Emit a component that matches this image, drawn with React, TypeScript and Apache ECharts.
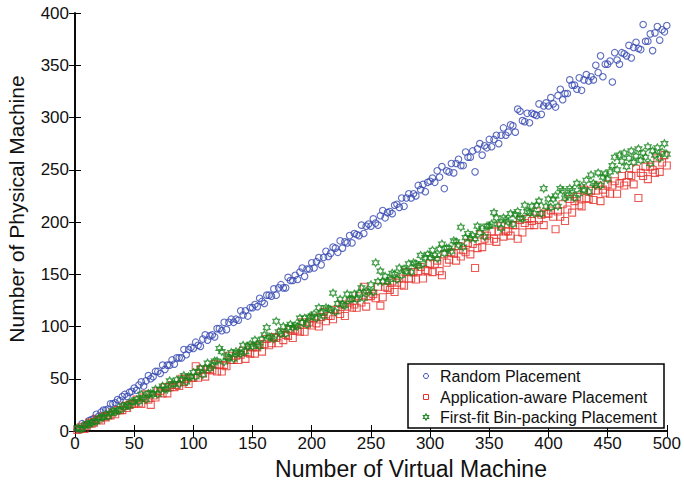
import React, { useEffect, useRef } from "react";
import * as echarts from "echarts";

// Number of virtual machines (x), every 2 VMs
const vmCounts: number[] = Array.from({ length: 250 }, (_, i) => 2 * (i + 1));

const randomPlacement: number[] = [
  2, 2, 7, 6, 6, 10, 11, 12, 16, 14, 18, 20, 20, 21, 26, 26, 27, 30, 29, 33, 35, 33, 37, 38, 41,
  39, 44, 47, 43, 48, 53, 50, 52, 57, 57, 55, 63, 59, 63, 63, 68, 64, 70, 70, 70, 78, 73, 78, 80, 79,
  85, 82, 81, 88, 92, 87, 91, 92, 90, 98, 98, 96, 104, 97, 104, 107, 104, 107, 106, 115, 111, 115, 110, 118, 118,
  121, 119, 127, 124, 122, 130, 130, 129, 136, 130, 137, 140, 137, 137, 147, 144, 144, 149, 145, 152, 156, 148, 155, 155, 161,
  156, 162, 166, 159, 166, 172, 167, 170, 176, 175, 171, 182, 175, 181, 180, 187, 180, 189, 188, 187, 197, 189, 196, 198, 196,
  203, 199, 197, 206, 211, 204, 209, 210, 208, 216, 217, 214, 223, 215, 223, 227, 223, 227, 225, 235, 231, 236, 229, 238, 239,
  242, 238, 249, 243, 253, 232, 249, 248, 256, 247, 256, 260, 254, 254, 267, 262, 262, 268, 248, 270, 275, 264, 273, 271, 279,
  272, 279, 283, 275, 283, 290, 283, 286, 293, 292, 286, 308, 306, 297, 296, 304, 295, 304, 303, 302, 313, 303, 311, 314, 311,
  319, 313, 310, 321, 327, 317, 323, 323, 336, 331, 331, 327, 338, 326, 336, 341, 335, 339, 336, 350, 343, 359, 339, 351, 351,
  354, 334, 362, 355, 351, 362, 361, 359, 369, 357, 367, 372, 366, 365, 389, 373, 373, 380, 364, 381, 387, 374, 384, 382, 388,
];

const applicationAware: number[] = [
  1, 2, 4, 2, 5, 8, 7, 8, 11, 11, 10, 14, 13, 15, 15, 18, 16, 20, 20, 20, 24, 22, 25, 26, 26,
  30, 27, 26, 32, 35, 30, 25, 34, 32, 38, 38, 36, 42, 36, 42, 44, 42, 44, 43, 50, 47, 50, 45, 51, 51,
  62, 51, 59, 55, 52, 59, 59, 58, 64, 57, 63, 57, 63, 62, 72, 68, 68, 72, 68, 73, 77, 69, 75, 74, 80,
  74, 80, 83, 76, 83, 88, 82, 84, 90, 89, 84, 94, 87, 92, 91, 97, 89, 97, 96, 95, 104, 95, 102, 104, 101,
  108, 103, 100, 109, 114, 105, 110, 110, 107, 116, 116, 112, 121, 110, 119, 123, 118, 121, 118, 129, 123, 138, 119, 129, 129,
  131, 127, 138, 120, 128, 138, 137, 135, 143, 133, 142, 146, 140, 139, 152, 146, 146, 152, 145, 153, 157, 146, 154, 153, 160,
  152, 160, 163, 153, 149, 169, 161, 164, 171, 170, 163, 177, 167, 173, 171, 180, 169, 179, 156, 175, 188, 176, 184, 187, 182,
  191, 184, 181, 191, 196, 186, 191, 191, 187, 197, 197, 184, 202, 190, 199, 203, 197, 201, 197, 210, 202, 207, 197, 208, 208,
  211, 205, 193, 210, 205, 217, 201, 212, 222, 209, 220, 224, 216, 215, 231, 223, 222, 230, 221, 230, 235, 220, 231, 228, 236,
  227, 235, 239, 227, 237, 244, 235, 238, 245, 244, 236, 251, 223, 247, 244, 253, 241, 253, 250, 247, 261, 248, 257, 264, 254,
];

const firstFit: number[] = [
  3, 2, 2, 5, 7, 6, 8, 9, 9, 12, 13, 13, 16, 14, 17, 19, 18, 20, 20, 24, 23, 25, 24, 28, 28,
  30, 28, 35, 32, 30, 36, 36, 35, 40, 35, 40, 43, 40, 40, 48, 45, 45, 49, 45, 50, 53, 47, 52, 52, 56,
  52, 57, 60, 54, 60, 65, 60, 62, 67, 67, 79, 76, 66, 71, 70, 75, 69, 76, 75, 74, 82, 76, 81, 83, 81,
  87, 83, 81, 88, 92, 99, 90, 90, 88, 105, 95, 93, 100, 93, 99, 102, 99, 101, 100, 108, 104, 108, 102, 109, 110,
  112, 108, 118, 113, 110, 118, 117, 116, 132, 114, 122, 126, 121, 120, 131, 126, 126, 131, 126, 132, 137, 127, 134, 133, 140,
  133, 161, 143, 153, 143, 148, 143, 145, 151, 150, 145, 156, 149, 155, 153, 160, 152, 161, 160, 158, 168, 160, 166, 169, 166,
  173, 168, 165, 174, 179, 170, 175, 175, 172, 182, 181, 178, 195, 176, 185, 189, 184, 187, 184, 196, 190, 194, 186, 196, 196,
  198, 209, 204, 198, 194, 204, 202, 200, 208, 198, 207, 210, 204, 203, 216, 210, 209, 215, 208, 216, 220, 208, 232, 215, 222,
  214, 222, 225, 215, 232, 230, 223, 225, 232, 230, 223, 237, 227, 234, 231, 240, 229, 245, 237, 235, 247, 235, 243, 246, 241,
  248, 254, 262, 250, 264, 258, 266, 253, 261, 268, 257, 263, 270, 259, 266, 262, 272, 256, 268, 264, 271, 261, 267, 275, 265,
];

const seriesNames = [
  "Random Placement",
  "Application-aware Placement",
  "First-fit Bin-packing Placement",
];

const BLUE = "#3447b0";
const RED = "#e6302b";
const GREEN = "#17861b";
const FONT = "'Liberation Sans', Arial, Helvetica, sans-serif";

const STAR_PATH =
  "path://M10,0L12.9,4.98L18.66,5L15.8,10L18.66,15L12.9,15.02L10,20L7.1,15.02L1.34,15L4.2,10L1.34,5L7.1,4.98Z";

function starPoints(cx: number, cy: number, r: number): number[][] {
  const pts: number[][] = [];
  for (let i = 0; i < 12; i++) {
    const a = (-90 + i * 30) * (Math.PI / 180);
    const rr = i % 2 === 0 ? r : r * 0.58;
    pts.push([cx + rr * Math.cos(a), cy + rr * Math.sin(a)]);
  }
  return pts;
}

export default function App() {
  const ref = useRef<HTMLDivElement>(null);

  useEffect(() => {
    if (!ref.current) return;
    const chart = echarts.init(ref.current, undefined, { renderer: "svg" });

    const axisLine = { show: true, lineStyle: { color: "#000", width: 1.6 } };
    const axisTick = { show: true, inside: true, length: 6, lineStyle: { color: "#000", width: 1 } };
    const label = { fontSize: 17, color: "#111", fontFamily: FONT };

    const legendX = 408;
    const legendY = 364;
    const rowYs = [376, 397, 417];

    chart.setOption({
      animation: false,
      grid: { left: 75, right: 15, top: 13, bottom: 53 },
      xAxis: [
        {
          type: "value",
          min: 0,
          max: 500,
          interval: 50,
          position: "bottom",
          axisLine,
          axisTick,
          axisLabel: { ...label, margin: 4 },
          splitLine: { show: false },
        },
        {
          type: "value",
          min: 0,
          max: 500,
          interval: 50,
          position: "top",
          axisLine,
          axisTick,
          axisLabel: { show: false },
          splitLine: { show: false },
        },
      ],
      yAxis: [
        {
          type: "value",
          min: 0,
          max: 400,
          interval: 50,
          position: "left",
          axisLine,
          axisTick,
          axisLabel: { ...label, margin: 6 },
          splitLine: { show: false },
        },
        {
          type: "value",
          min: 0,
          max: 400,
          interval: 50,
          position: "right",
          axisLine,
          axisTick,
          axisLabel: { show: false },
          splitLine: { show: false },
        },
      ],
      series: [
        {
          name: seriesNames[0],
          type: "scatter",
          symbol: "circle",
          symbolSize: 6.5,
          itemStyle: { color: "rgba(0,0,0,0)", borderColor: BLUE, borderWidth: 1.1 },
          data: vmCounts.map((x, i) => [x, randomPlacement[i]]),
        },
        {
          name: seriesNames[1],
          type: "scatter",
          symbol: "rect",
          symbolSize: 7,
          itemStyle: { color: "rgba(0,0,0,0)", borderColor: RED, borderWidth: 1.1 },
          data: vmCounts.map((x, i) => [x, applicationAware[i]]),
        },
        {
          name: seriesNames[2],
          type: "scatter",
          symbol: STAR_PATH,
          symbolSize: [6.5, 7.5],
          itemStyle: { color: "rgba(0,0,0,0)", borderColor: GREEN, borderWidth: 1.3 },
          data: vmCounts.map((x, i) => [x, firstFit[i]]),
        },
      ],
      graphic: [
        {
          type: "text",
          x: 16,
          y: 209,
          rotation: Math.PI / 2,
          style: {
            text: "Number of Physical Machine",
            fontSize: 21,
            fontFamily: FONT,
            fill: "#111",
            align: "center",
            verticalAlign: "middle",
          },
        },
        {
          type: "text",
          x: 411,
          y: 469,
          style: {
            text: "Number of Virtual Machine",
            fontSize: 23,
            fontFamily: FONT,
            fill: "#111",
            align: "center",
            verticalAlign: "middle",
          },
        },
        {
          type: "rect",
          shape: { x: legendX, y: legendY, width: 256, height: 64 },
          style: { fill: "#fff", stroke: "#000", lineWidth: 1.5 },
          z: 100,
        },
        {
          type: "circle",
          shape: { cx: 426, cy: rowYs[0], r: 2.5 },
          style: { fill: "none", stroke: BLUE, lineWidth: 1 },
          z: 101,
        },
        {
          type: "rect",
          shape: { x: 423.5, y: rowYs[1] - 2.5, width: 5, height: 5 },
          style: { fill: "none", stroke: RED, lineWidth: 1 },
          z: 101,
        },
        {
          type: "polygon",
          shape: { points: starPoints(426, rowYs[2], 3) },
          style: { fill: "none", stroke: GREEN, lineWidth: 1.2 },
          z: 101,
        },
        ...seriesNames.map((name, i) => ({
          type: "text",
          x: 440,
          y: rowYs[i],
          z: 101,
          style: {
            text: name,
            fontSize: 16,
            fontFamily: FONT,
            fill: "#111",
            align: "left",
            verticalAlign: "middle",
          },
        })),
      ],
    });

    return () => chart.dispose();
  }, []);

  return (
    <div
      ref={ref}
      style={{ position: "fixed", left: 0, top: 0, width: 684, height: 484, background: "#fff" }}
    />
  );
}
